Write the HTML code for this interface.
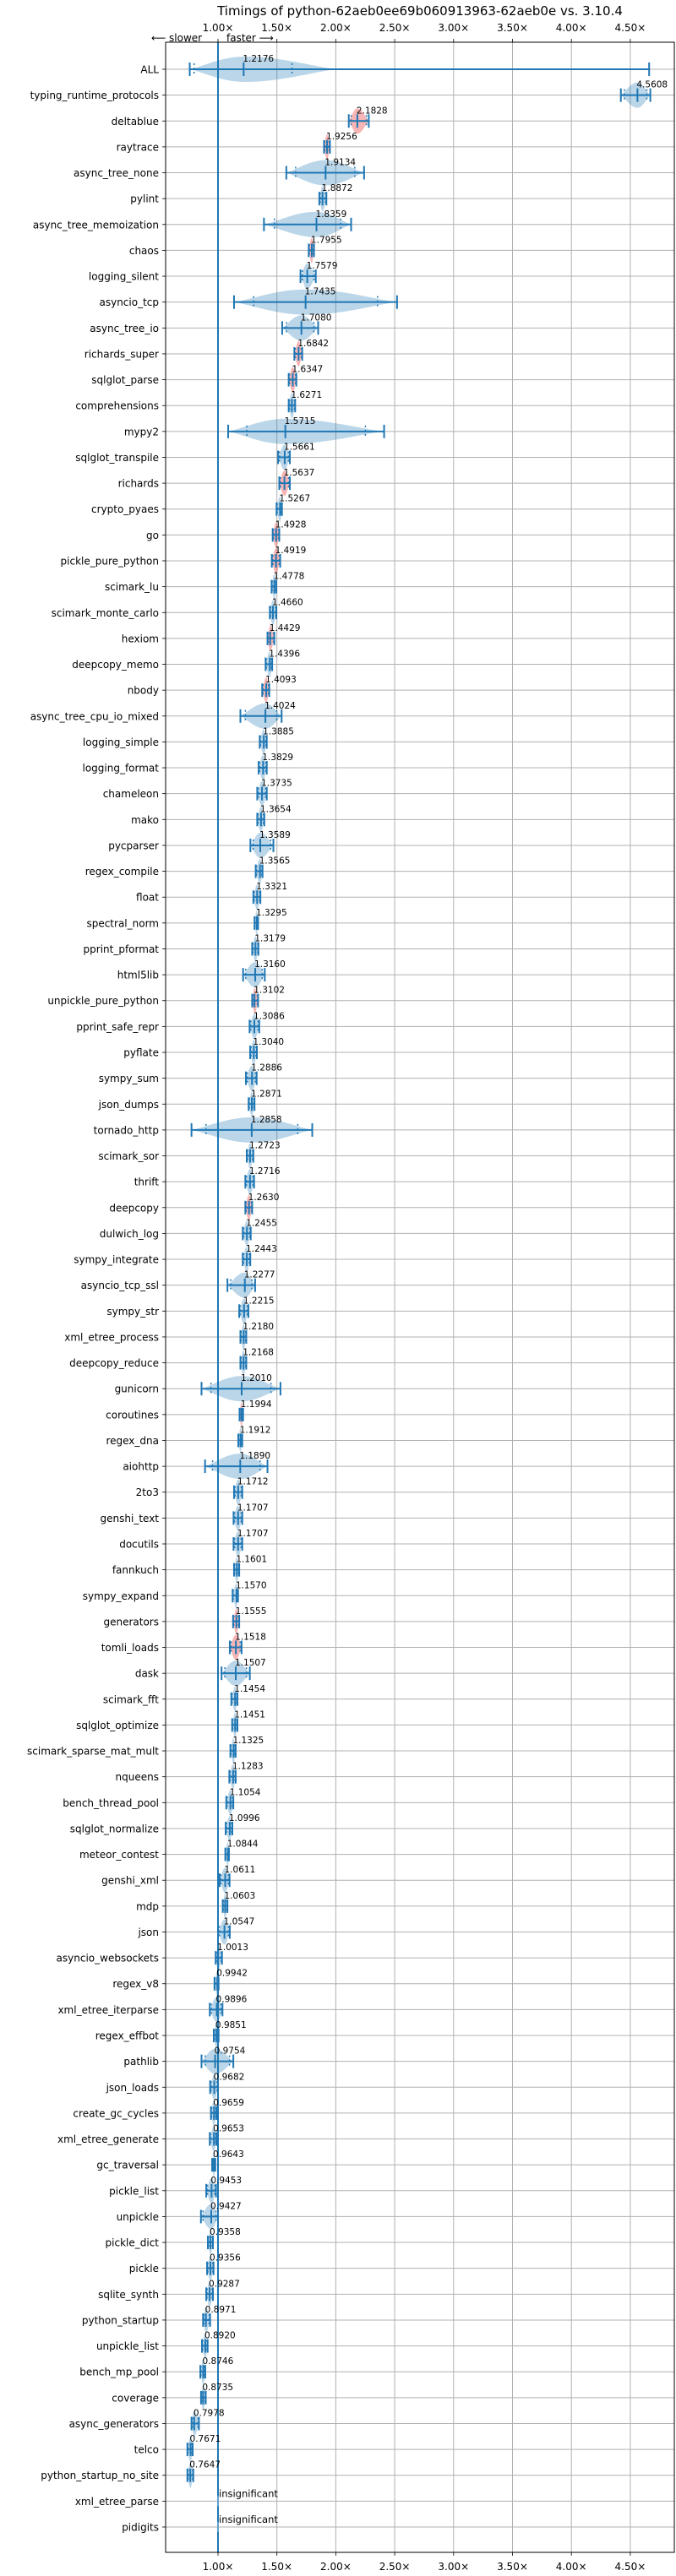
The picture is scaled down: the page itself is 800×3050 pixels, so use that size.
<!DOCTYPE html>
<html><head><meta charset="utf-8">
<style>
html,body{margin:0;padding:0;background:#fff;}
svg{display:block;font-family:"DejaVu Sans","Liberation Sans",sans-serif;}
</style></head>
<body>
<svg id="chart" width="800" height="3050" viewBox="0 0 800 3050" xmlns="http://www.w3.org/2000/svg">
<rect x="0" y="0" width="800" height="3050" fill="#fff"/>
<text x="497" y="18" font-size="15" text-anchor="middle" fill="#000">Timings of python-62aeb0ee69b060913963-62aeb0e vs. 3.10.4</text>
<text x="179" y="49" font-size="12" fill="#000">⟵ slower</text>
<text x="268" y="49" font-size="12" fill="#000">faster ⟶</text>
<g id="grid"></g>
<g id="violins"></g>
<g id="axes"></g>
</svg>
<script>
const names = ["ALL","typing_runtime_protocols","deltablue","raytrace","async_tree_none","pylint","async_tree_memoization","chaos","logging_silent","asyncio_tcp","async_tree_io","richards_super","sqlglot_parse","comprehensions","mypy2","sqlglot_transpile","richards","crypto_pyaes","go","pickle_pure_python","scimark_lu","scimark_monte_carlo","hexiom","deepcopy_memo","nbody","async_tree_cpu_io_mixed","logging_simple","logging_format","chameleon","mako","pycparser","regex_compile","float","spectral_norm","pprint_pformat","html5lib","unpickle_pure_python","pprint_safe_repr","pyflate","sympy_sum","json_dumps","tornado_http","scimark_sor","thrift","deepcopy","dulwich_log","sympy_integrate","asyncio_tcp_ssl","sympy_str","xml_etree_process","deepcopy_reduce","gunicorn","coroutines","regex_dna","aiohttp","2to3","genshi_text","docutils","fannkuch","sympy_expand","generators","tomli_loads","dask","scimark_fft","sqlglot_optimize","scimark_sparse_mat_mult","nqueens","bench_thread_pool","sqlglot_normalize","meteor_contest","genshi_xml","mdp","json","asyncio_websockets","regex_v8","xml_etree_iterparse","regex_effbot","pathlib","json_loads","create_gc_cycles","xml_etree_generate","gc_traversal","pickle_list","unpickle","pickle_dict","pickle","sqlite_synth","python_startup","unpickle_list","bench_mp_pool","coverage","async_generators","telco","python_startup_no_site","xml_etree_parse","pidigits"];
const medians = [1.2176,4.5608,2.1828,1.9256,1.9134,1.8872,1.8359,1.7955,1.7579,1.7435,1.7080,1.6842,1.6347,1.6271,1.5715,1.5661,1.5637,1.5267,1.4928,1.4919,1.4778,1.4660,1.4429,1.4396,1.4093,1.4024,1.3885,1.3829,1.3735,1.3654,1.3589,1.3565,1.3321,1.3295,1.3179,1.3160,1.3102,1.3086,1.3040,1.2886,1.2871,1.2858,1.2723,1.2716,1.2630,1.2455,1.2443,1.2277,1.2215,1.2180,1.2168,1.2010,1.1994,1.1912,1.1890,1.1712,1.1707,1.1707,1.1601,1.1570,1.1555,1.1518,1.1507,1.1454,1.1451,1.1325,1.1283,1.1054,1.0996,1.0844,1.0611,1.0603,1.0547,1.0013,0.9942,0.9896,0.9851,0.9754,0.9682,0.9659,0.9653,0.9643,0.9453,0.9427,0.9358,0.9356,0.9287,0.8971,0.8920,0.8746,0.8735,0.7978,0.7671,0.7647,null,null];
const mins = [0.76,4.42,2.11,1.90,1.58,1.86,1.39,1.77,1.70,1.136,1.545,1.648,1.60,1.60,1.086,1.51,1.52,1.497,1.464,1.457,1.455,1.44,1.42,1.404,1.375,1.19,1.354,1.345,1.333,1.333,1.275,1.32,1.30,1.31,1.29,1.213,1.29,1.268,1.273,1.237,1.26,0.775,1.244,1.232,1.232,1.21,1.21,1.08,1.18,1.19,1.19,0.86,1.183,1.172,0.89,1.136,1.132,1.132,1.136,1.124,1.128,1.10,1.03,1.113,1.12,1.105,1.096,1.07,1.065,1.062,1.014,1.04,1.0,0.98,0.97,0.93,0.964,0.86,0.933,0.94,0.93,0.95,0.90,0.855,0.914,0.907,0.90,0.873,0.864,0.85,0.856,0.775,0.74,0.74,null,null];
const maxs = [4.66,4.67,2.28,1.95,2.24,1.92,2.13,1.815,1.83,2.52,1.85,1.715,1.665,1.655,2.41,1.61,1.61,1.543,1.52,1.528,1.495,1.495,1.478,1.46,1.435,1.54,1.414,1.414,1.414,1.393,1.47,1.378,1.36,1.34,1.343,1.397,1.34,1.35,1.33,1.328,1.31,1.80,1.30,1.306,1.29,1.278,1.274,1.315,1.258,1.24,1.24,1.53,1.213,1.206,1.42,1.206,1.206,1.206,1.18,1.17,1.18,1.20,1.27,1.165,1.165,1.15,1.15,1.13,1.122,1.093,1.098,1.08,1.10,1.034,1.005,1.038,1.005,1.13,1.0,0.986,0.986,0.977,0.983,1.0,0.957,0.962,0.957,0.933,0.912,0.892,0.896,0.838,0.785,0.79,null,null];
const redFlags = [0,0,1,1,0,0,0,1,0,0,0,1,1,0,0,0,1,0,1,1,0,0,1,0,1,0,0,0,0,0,0,0,0,0,0,0,1,0,0,0,0,0,0,0,1,0,0,0,0,0,0,0,1,0,0,0,0,0,0,0,1,1,0,0,0,0,0,0,0,0,0,0,0,0,0,0,0,0,0,0,0,0,0,0,0,0,0,0,0,0,0,0,0,0,0,0];
const xTicks = [1.0,1.5,2.0,2.5,3.0,3.5,4.0,4.5];
const xTickLabels = ["1.00×","1.50×","2.00×","2.50×","3.00×","3.50×","4.00×","4.50×"];

const NS = "http://www.w3.org/2000/svg";
const L = 196, R = 798, T = 50, B = 3022;
const ROW0 = 82, ROWSTEP = (2992 - 82) / 95;
function xs(v){ return 258 + (v - 1) * 139.4; }
function ys(i){ return ROW0 + i * ROWSTEP; }
function mk(tag, attrs, parent){
  const e = document.createElementNS(NS, tag);
  for (const k in attrs) e.setAttribute(k, attrs[k]);
  parent.appendChild(e);
  return e;
}
const grid = document.getElementById('grid');
const vg = document.getElementById('violins');
const ax = document.getElementById('axes');

xTicks.forEach((t, k) => {
  const x = xs(t);
  const gl = mk('line', {x1:x, x2:x, y1:T, y2:B, stroke:'#b0b0b0', 'stroke-width':1}, grid);
  
  
  mk('line', {x1:x, x2:x, y1:T-4, y2:T, stroke:'#000', 'stroke-width':0.8}, ax);
  mk('line', {x1:x, x2:x, y1:B, y2:B+4, stroke:'#000', 'stroke-width':0.8}, ax);
  const tt = mk('text', {x:x, y:37, 'font-size':12, 'text-anchor':'middle', fill:'#000'}, ax);
  tt.textContent = xTickLabels[k];
  
  
  const tb = mk('text', {x:x, y:3043, 'font-size':12, 'text-anchor':'middle', fill:'#000'}, ax);
  tb.textContent = xTickLabels[k];
  
  
});
names.forEach((n, i) => {
  const y = ys(i);
  const gl = mk('line', {x1:L, x2:R, y1:y, y2:y, stroke:'#b0b0b0', 'stroke-width':1}, grid);
  
  
  mk('line', {x1:L-4, x2:L, y1:y, y2:y, stroke:'#000', 'stroke-width':0.8}, ax);
  const lab = mk('text', {x:L-8, y:y+4.5, 'font-size':12, 'text-anchor':'end', fill:'#000'}, ax);
  lab.textContent = n;
  
  
});
const ref = mk('line', {x1:xs(1), x2:xs(1), y1:T, y2:B, stroke:'#1f77b4', 'stroke-width':2}, vg);



names.forEach((n, i) => {
  const y = ys(i);
  const g = mk('g', {}, vg);
  
  
  if (medians[i] === null) {
    mk('line', {x1:xs(1), x2:xs(1), y1:y-6, y2:y+6, stroke:'#a6c8e4', 'stroke-width':1}, g);
    const t = mk('text', {x:xs(1)+1, y:y-5, 'font-size':11.5, fill:'#000'}, g);
    t.textContent = 'insignificant';
    
    
    return;
  }
  const lo = mins[i], hi = maxs[i], md = medians[i];
  const bodyHi = (i === 0) ? 2.0 : hi;
  const x0 = xs(lo), x1 = xs(bodyHi), xm = xs(md);
  const H = 15;
  let top = [], bot = [];
  const N = 24;
  for (let k = 0; k <= N; k++) {
    const t = k / N;
    const x = x0 + (x1 - x0) * t;
    let u;
    if (x <= xm) u = (xm - x0) > 0 ? (x - x0) / (xm - x0) : 1;
    else u = (x1 - xm) > 0 ? 1 - (x - xm) / (x1 - xm) : 1;
    const h = H * Math.pow(Math.sin(Math.PI * u / 2), 1.2);
    top.push(x.toFixed(1) + ',' + (y - h).toFixed(1));
    bot.unshift(x.toFixed(1) + ',' + (y + h).toFixed(1));
  }
  const fill = redFlags[i] ? 'rgba(240,120,120,0.55)' : 'rgba(31,119,180,0.3)';
  const body = mk('polygon', {points: top.concat(bot).join(' '), fill: fill, stroke:'none'}, g);
  
  
  const c = '#1f77b4';
  mk('line', {x1:xs(lo), x2:xs(hi), y1:y, y2:y, stroke:c, 'stroke-width':2}, g);
  mk('line', {x1:xs(lo), x2:xs(lo), y1:y-8, y2:y+8, stroke:c, 'stroke-width':2}, g);
  mk('line', {x1:xs(hi), x2:xs(hi), y1:y-8, y2:y+8, stroke:c, 'stroke-width':2}, g);
  mk('line', {x1:xm, x2:xm, y1:y-8, y2:y+8, stroke:c, 'stroke-width':2}, g);
  const q1 = xs(lo + (bodyHi - lo) * 0.03), q3 = xs(bodyHi - (bodyHi - lo) * (i === 0 ? 0.3 : 0.12));
  const q1b = (i === 0) ? q1 : xs(lo + (hi - lo) * 0.12);
  [q1b, q3].forEach(q => mk('line', {x1:q, x2:q, y1:y-7, y2:y+7, stroke:c, 'stroke-width':1.5, 'stroke-dasharray':'2,3'}, g));
  const t = mk('text', {x:xm-1, y:y-9, 'font-size':10.5, fill:'#000'}, g);
  t.textContent = md.toFixed(4);
  
  
});
const fr = mk('rect', {x:L, y:T, width:R-L, height:B-T, fill:'none', stroke:'#000', 'stroke-width':1}, ax);


</script>
</body></html>
